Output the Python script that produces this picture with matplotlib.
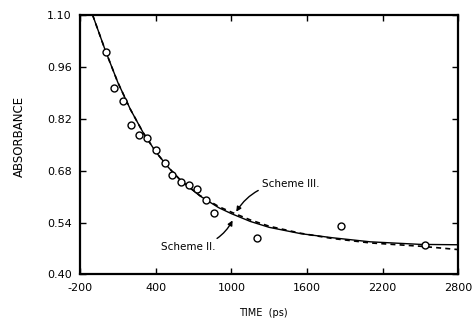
import matplotlib
matplotlib.use("Agg")
import matplotlib.pyplot as plt
import numpy as np

time_pts = [10, 70, 139, 202, 268, 334, 406, 471, 532, 598, 664, 730, 796, 862, 1200, 1870, 2537]
abs_pts = [0.999, 0.902, 0.869, 0.803, 0.776, 0.767, 0.736, 0.700, 0.668, 0.648,
           0.641, 0.631, 0.601, 0.567, 0.499, 0.531, 0.480]

# fitted curves, sampled along the drawn lines
curve_t = [-100, 0, 100, 200, 300, 400, 500, 600, 750, 900, 1000, 1150, 1300, 1550, 1800, 2100, 2500, 2800]
scheme2 = [1.10, 1.005, 0.918, 0.845, 0.783, 0.731, 0.689, 0.653, 0.612, 0.580,
           0.564, 0.543, 0.527, 0.510, 0.499, 0.488, 0.481, 0.480]
scheme3 = [1.10, 1.005, 0.918, 0.845, 0.783, 0.731, 0.689, 0.653, 0.613, 0.583,
           0.568, 0.547, 0.530, 0.511, 0.497, 0.485, 0.476, 0.467]

xticks = [-200, 400, 1000, 1600, 2200, 2800]
yticks = [0.40, 0.54, 0.68, 0.82, 0.96, 1.10]

plt.rcParams['font.family'] = 'DejaVu Sans'
fig = plt.figure(figsize=(4.76, 3.24), dpi=100)
ax = fig.add_axes([0.168, 0.153, 0.795, 0.801])

ax.plot(curve_t, scheme2, '-', color='black', lw=1.0)
ax.plot(curve_t, scheme3, '--', color='black', lw=1.2, dashes=(3, 2.5))
ax.plot(time_pts, abs_pts, 'o', mfc='white', mec='black', ms=5, mew=1.0)

ax.set_xlim(-200, 2800)
ax.set_ylim(0.40, 1.10)
ax.set_xticks(xticks)
ax.set_yticks(yticks)
ax.set_xticklabels([str(v) for v in xticks])
ax.set_yticklabels([f"{v:.2f}" for v in yticks])
ax.tick_params(direction='in', length=4, width=1, top=True, right=True,
               labelsize=8, pad=6)
for s in ax.spines.values():
    s.set_linewidth(1.6)

ax.annotate("Scheme III.", xy=(1033, 0.566), xytext=(1245, 0.644),
            fontsize=7.5, ha='left', va='center',
            arrowprops=dict(arrowstyle='-|>', color='black', lw=1.0,
                            connectionstyle='arc3,rad=0.3', mutation_scale=7,
                            shrinkA=1, shrinkB=1))
ax.annotate("Scheme II.", xy=(1015, 0.549), xytext=(875, 0.474),
            fontsize=7.5, ha='right', va='center',
            arrowprops=dict(arrowstyle='-|>', color='black', lw=1.0,
                            connectionstyle='arc3,rad=0.3', mutation_scale=7,
                            shrinkA=1, shrinkB=1))

fig.text(0.041, 0.58, "ABSORBANCE", rotation=90, fontsize=8.5, ha='center', va='center')
fig.text(0.553, 0.018, "TIME  (ps)", fontsize=7, ha='center', va='bottom')

fig.savefig("out.png", dpi=100)
